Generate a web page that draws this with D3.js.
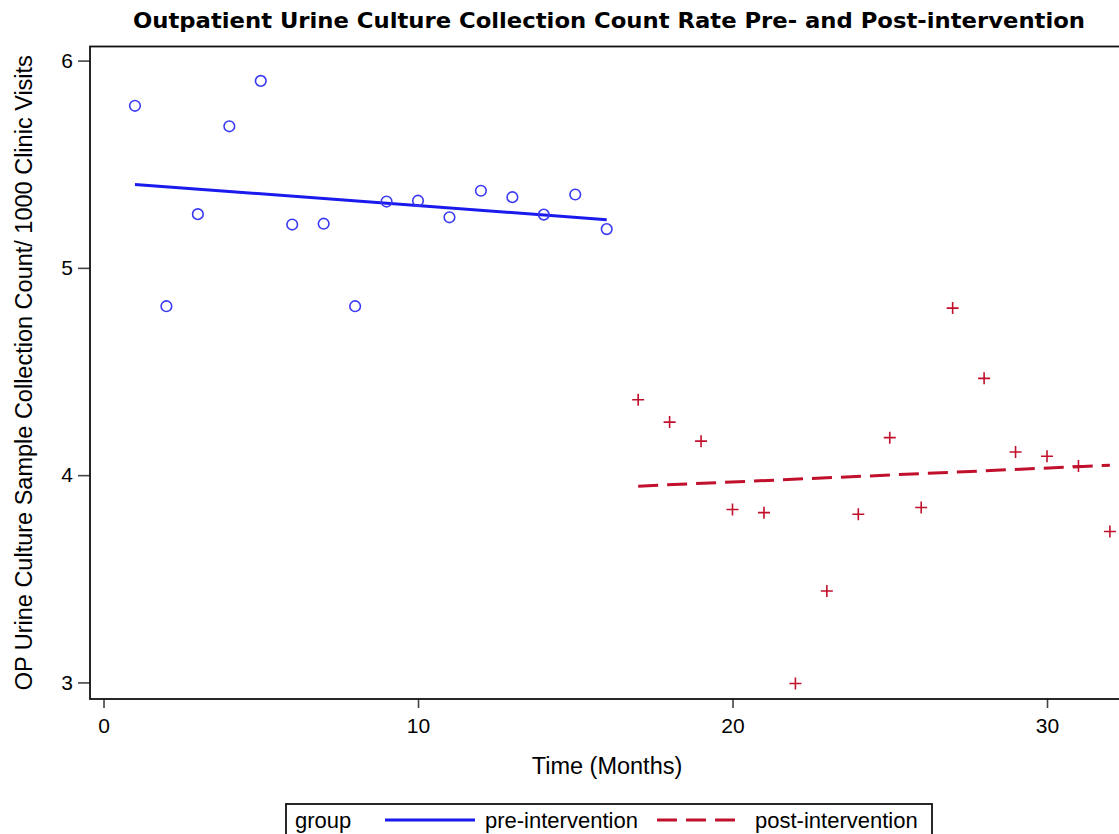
<!DOCTYPE html>
<html>
<head>
<meta charset="utf-8">
<script src="https://cdn.jsdelivr.net/npm/d3@7"></script>
<style>
  body { margin: 0; background: #fff; }
  text { font-family: "Liberation Sans", Arial, sans-serif; }
</style>
</head>
<body>
<div id="chart"></div>
<script>
// months and rates
const preMonths = [1, 2, 3, 4, 5, 6, 7, 8, 9, 10, 11, 12, 13, 14, 15, 16];
const preRates = [5.782, 4.815, 5.259, 5.683, 5.902, 5.209, 5.213, 4.815,
  5.320, 5.324, 5.244, 5.372, 5.341, 5.257, 5.354, 5.187];
const postMonths = [17, 18, 19, 20, 21, 22, 23, 24, 25, 26, 27, 28, 29, 30, 31, 32];
const postRates = [4.364, 4.256, 4.164, 3.834, 3.819, 2.995, 3.441, 3.811,
  4.181, 3.844, 4.806, 4.467, 4.112, 4.091, 4.044, 3.728];
const xTicks = [0, 10, 20, 30];
const yTicks = [3, 4, 5, 6];
const groupNames = ['pre-intervention', 'post-intervention'];

const width = 1119;
const height = 834;
const blue = '#1a1aee';
const red = '#c0102c';

const svg = d3.select('#chart').append('svg')
  .attr('width', width)
  .attr('height', height);

const xScale = d3.scaleLinear().domain([-0.43, 32.48]).range([90, 1125]);
const yScale = d3.scaleLinear().domain([2.92, 6.068]).range([699, 46.5]);

// least squares fit, as the regression lines in the plot
function fit(xs, ys) {
  const mx = d3.mean(xs), my = d3.mean(ys);
  const sxy = d3.sum(xs, (x, i) => (x - mx) * (ys[i] - my));
  const sxx = d3.sum(xs, x => (x - mx) * (x - mx));
  const b = sxy / sxx;
  const a = my - b * mx;
  const x0 = d3.min(xs), x1 = d3.max(xs);
  return [[x0, a + b * x0], [x1, a + b * x1]];
}

const line = d3.line()
  .x(d => xScale(d[0]))
  .y(d => yScale(d[1]));

// title
svg.append('text')
  .attr('x', 609)
  .attr('y', 28)
  .attr('text-anchor', 'middle')
  .attr('textLength', 952)
  .attr('lengthAdjust', 'spacingAndGlyphs')
  .style('font-family', '"DejaVu Sans", Verdana, sans-serif')
  .style('font-size', '21px')
  .style('font-weight', 'bold')
  .text('Outpatient Urine Culture Collection Count Rate Pre- and Post-intervention');

// axes
const yAxis = d3.axisLeft(yScale).tickValues(yTicks).tickFormat(d3.format('d'))
  .tickSize(12).tickPadding(5);
const xAxis = d3.axisBottom(xScale).tickValues(xTicks).tickFormat(d3.format('d'))
  .tickSize(9).tickPadding(10);

const yAxisGroup = svg.append('g')
  .attr('transform', `translate(${xScale.range()[0]},0)`)
  .call(yAxis);
const xAxisGroup = svg.append('g')
  .attr('transform', `translate(0,${yScale.range()[0]})`)
  .call(xAxis);

[yAxisGroup, xAxisGroup].forEach(g => {
  g.select('.domain').remove();
  g.selectAll('line').attr('stroke', '#444').attr('stroke-width', 1.6);
  g.selectAll('text')
    .style('font-size', '21px')
    .style('font-family', '"Liberation Sans", Arial, sans-serif')
    .attr('fill', '#000');
});

// frame
svg.append('rect')
  .attr('x', xScale.range()[0])
  .attr('y', yScale.range()[1])
  .attr('width', xScale.range()[1] - xScale.range()[0])
  .attr('height', yScale.range()[0] - yScale.range()[1])
  .attr('fill', 'none')
  .attr('stroke', '#111')
  .attr('stroke-width', 1.8);

// axis labels
svg.append('text')
  .attr('transform', `translate(32,${(yScale.range()[0] + yScale.range()[1]) / 2}) rotate(-90)`)
  .attr('text-anchor', 'middle')
  .style('font-size', '23.5px')
  .text('OP Urine Culture Sample Collection Count/ 1000 Clinic Visits');

svg.append('text')
  .attr('x', 607)
  .attr('y', 774)
  .attr('text-anchor', 'middle')
  .style('font-size', '23.5px')
  .text('Time (Months)');

const plot = svg.append('g');

// fit lines
plot.append('path')
  .attr('d', line(fit(preMonths, preRates)))
  .attr('fill', 'none')
  .attr('stroke', blue)
  .attr('stroke-width', 3);

plot.append('path')
  .attr('d', line(fit(postMonths, postRates)))
  .attr('fill', 'none')
  .attr('stroke', red)
  .attr('stroke-width', 3)
  .attr('stroke-dasharray', '20,9');

// pre points: circles
plot.selectAll('circle')
  .data(preMonths)
  .enter()
  .append('circle')
  .attr('cx', d => xScale(d))
  .attr('cy', (d, i) => yScale(preRates[i]))
  .attr('r', 5.3)
  .attr('fill', 'none')
  .attr('stroke', '#3a3af5')
  .attr('stroke-width', 1.6);

// post points: plus signs
plot.selectAll('path.plus')
  .data(postMonths)
  .enter()
  .append('path')
  .attr('class', 'plus')
  .attr('d', (d, i) => {
    const cx = xScale(d), cy = yScale(postRates[i]);
    return `M${cx - 6},${cy}H${cx + 6}M${cx},${cy - 6}V${cy + 6}`;
  })
  .attr('stroke', red)
  .attr('stroke-width', 1.6)
  .attr('fill', 'none');

// legend
const legend = svg.append('g');
legend.append('rect')
  .attr('x', 286)
  .attr('y', 804)
  .attr('width', 646)
  .attr('height', 40)
  .attr('fill', 'none')
  .attr('stroke', '#111')
  .attr('stroke-width', 1.8);

legend.append('text')
  .attr('x', 295)
  .attr('y', 828)
  .style('font-size', '22px')
  .text('group');

const legendItems = [
  { name: groupNames[0], color: blue, dash: null, x0: 385, x1: 475, tx: 485 },
  { name: groupNames[1], color: red, dash: '20,9', x0: 657, x1: 740, tx: 755 }
];

legendItems.forEach(d => {
  legend.append('line')
    .attr('x1', d.x0)
    .attr('x2', d.x1)
    .attr('y1', 820)
    .attr('y2', 820)
    .attr('stroke', d.color)
    .attr('stroke-width', 3)
    .attr('stroke-dasharray', d.dash);
  legend.append('text')
    .attr('x', d.tx)
    .attr('y', 828)
    .style('font-size', '22px')
    .text(d.name);
});
</script>
</body>
</html>
